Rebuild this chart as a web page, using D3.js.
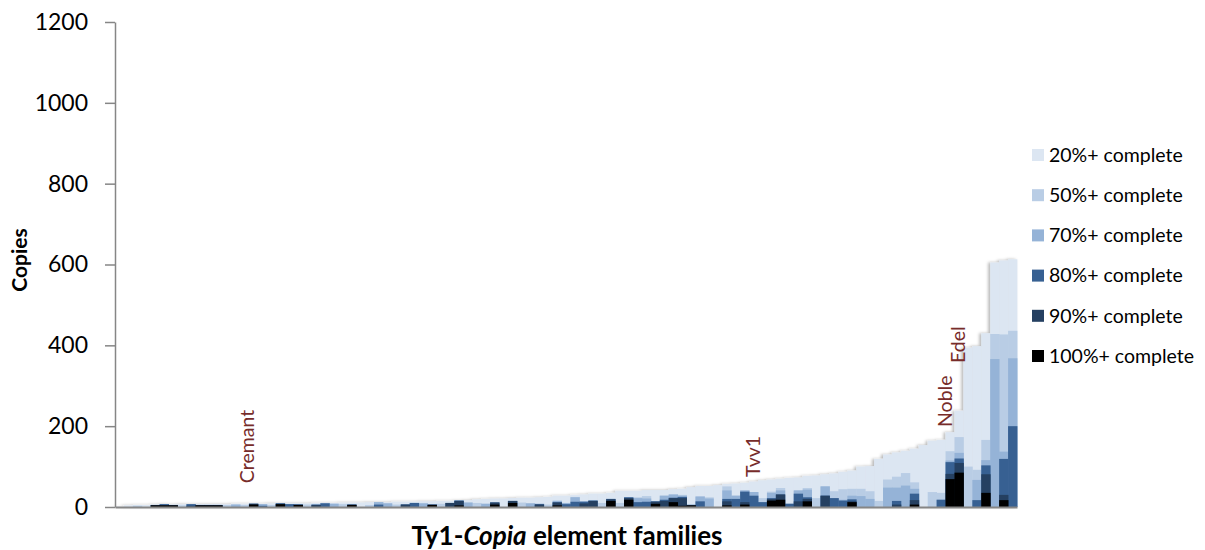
<!DOCTYPE html>
<html>
<head>
<meta charset="utf-8">
<script src="https://cdn.jsdelivr.net/npm/d3@7"></script>
<style>
  body { margin: 0; background: #fff; }
  svg { display: block; }
  text { font-family: Lato, "Open Sans", sans-serif; fill: #000; }
</style>
</head>
<body>
<svg id="chart" width="1205" height="550"></svg>
<script>
// Ty1-Copia families, sorted by number of copies that are at least 20% complete
const families = d3.range(1, 102).map(i => "F" + i);

// Copies per family by completeness threshold (each threshold includes the stricter ones)
const complete20 = [1,4,5,5,6,7,6,7,7,7, 7,7,7,8,8,8,8,9,9,9,
  9,9,10,10,10,11,11,11,12,12, 12,13,13,13,14,14,15,15,16,17,
  19,20,21,21,22,23,23,24,25,28, 28,30,31,33,33,35,40,40,40,42,
  42,42,44,45,49,52,52,54,57,58, 60,63,66,68,70,72,73,77,78,81,
  83,87,90,100,101,119,130,135,139,144, 153,164,166,185,238,394,398,430,605,610,
  613];
const complete50 = [0,0,3,0,5,7,5,4,7,5, 5,5,5,6,5,8,7,5,9,7,
  7,6,6,10,8,7,6,0,5,12, 9,6,7,10,9,6,8,10,16,11,
  10,8,12,0,15,11,9,8,6,16, 10,25,14,16,10,20,10,24,24,27,
  14,28,31,30,6,26,24,0,51,28, 41,37,22,38,47,8,41,47,22,51,
  39,44,45,45,39,15,68,75,84,61, 0,37,35,138,173,100,92,166,428,427,
  436];
const complete70 = [0,0,0,0,5,7,5,0,7,5, 5,5,0,6,0,8,7,0,9,7,
  7,0,6,10,8,0,6,0,0,12, 9,0,7,10,9,6,0,10,16,11,
  0,8,12,0,15,0,9,8,0,15, 10,24,14,16,0,20,0,24,22,21,
  14,28,31,28,6,26,21,0,41,28, 41,37,12,35,41,8,41,43,0,51,
  22,18,28,27,20,0,48,48,53,45, 0,0,18,115,134,0,67,116,366,137,
  368];
const complete80 = [0,0,0,0,5,7,5,0,7,5, 5,5,0,0,0,8,3,0,9,7,
  6,0,6,9,0,0,6,0,0,6, 0,0,6,10,0,6,0,10,16,0,
  0,0,11,0,15,0,0,7,0,12, 7,13,13,16,0,20,0,24,12,13,
  14,18,23,25,5,14,0,0,20,20, 38,28,12,22,31,8,33,24,0,28,
  22,16,19,0,0,0,0,15,0,33, 0,0,18,111,120,0,17,103,0,119,
  200];
const complete90 = [0,0,0,0,5,5,5,0,3,5, 5,5,0,0,0,8,0,0,8,0,
  6,0,5,0,0,0,6,0,0,0, 0,0,6,0,0,6,0,10,15,0,
  0,0,11,0,15,0,0,6,0,11, 0,0,9,15,0,19,0,22,0,0,
  13,15,22,22,5,0,0,0,14,0, 12,0,0,20,31,0,14,20,0,28,
  0,0,14,0,0,0,0,6,0,17, 0,0,0,82,109,0,0,81,0,30,
  0];
const complete100 = [0,0,0,0,4,4,4,0,0,4, 4,4,0,0,0,6,0,0,7,0,
  5,0,0,0,0,0,5,0,0,0, 0,0,0,0,0,5,0,0,4,0,
  0,0,6,0,10,0,0,0,0,4, 0,0,0,0,0,15,0,18,0,0,
  8,0,12,3,4,0,0,0,4,0, 6,0,0,16,18,0,0,14,0,0,
  0,0,12,0,0,0,0,0,0,6, 0,0,0,69,85,0,0,35,0,17,
  0];

const seriesNames = ["20%+ complete", "50%+ complete", "70%+ complete",
                     "80%+ complete", "90%+ complete", "100%+ complete"];
const seriesValues = [complete20, complete50, complete70, complete80, complete90, complete100];
const seriesColors = ["#dce6f2", "#b9cde5", "#95b3d7", "#376092", "#254061", "#000000"];

const yTicks = [0, 200, 400, 600, 800, 1000, 1200];

// Named families, placed over the bars (pos in category units, value = where the label starts)
const familyLabels = [
  { text: "Cremant", pos: 14.85, value: 59 },
  { text: "Tvv1",    pos: 71.47, value: 74 },
  { text: "Noble",   pos: 92.95, value: 198 },
  { text: "Edel",    pos: 94.4,  value: 356 }
];

const svg = d3.select("#chart");
const plot = { left: 115, right: 1017, top: 22, bottom: 507 };

const x = d3.scaleBand().domain(families).range([plot.left, plot.right]).padding(0);
const xPos = d3.scaleLinear().domain([0, families.length]).range([plot.left, plot.right]);
const y = d3.scaleLinear().domain([0, 1200]).range([plot.bottom, plot.top]);

// soft shadow on the outer (20%) bars
const defs = svg.append("defs");
const f = defs.append("filter").attr("id", "barShadow")
  .attr("x", "-5%").attr("y", "-5%").attr("width", "110%").attr("height", "110%");
f.append("feDropShadow").attr("dx", -2).attr("dy", 0).attr("stdDeviation", 1.4)
  .attr("flood-color", "#000").attr("flood-opacity", 0.28);

// overlapping bars: widest threshold first, strictest on top
seriesValues.forEach((vals, si) => {
  const g = svg.append("g").attr("class", "series s" + si);
  if (si === 0) g.attr("filter", "url(#barShadow)");
  g.selectAll("rect")
    .data(families.map((fam, i) => ({ fam, v: vals[i] })).filter(d => d.v > 0))
    .join("rect")
    .attr("x", d => x(d.fam))
    .attr("width", x.bandwidth() + 0.4)
    .attr("y", d => y(d.v))
    .attr("height", d => y(0) - y(d.v))
    .attr("fill", seriesColors[si]);
});

// y axis
const yAxis = d3.axisLeft(y).tickValues(yTicks).tickFormat(d3.format("d"))
  .tickSize(10).tickPadding(17).tickSizeOuter(0);
const gy = svg.append("g").attr("transform", `translate(${plot.left},0)`).call(yAxis);
gy.select(".domain").attr("stroke", "#868686").attr("stroke-width", 1.5);
gy.selectAll(".tick line").attr("stroke", "#868686").attr("stroke-width", 1.5);
gy.selectAll(".tick text").attr("font-size", 23).attr("font-family", "Lato, sans-serif").attr("fill", "#000");

// x axis baseline
const xAxis = d3.axisBottom(x).tickValues([]).tickSize(0).tickSizeOuter(0);
const gx = svg.append("g").attr("transform", `translate(0,${plot.bottom})`).call(xAxis);
gx.select(".domain").attr("stroke", "#868686").attr("stroke-width", 2);

// family labels
svg.append("g").selectAll("text").data(familyLabels).join("text")
  .attr("transform", d => `translate(${xPos(d.pos)},${y(d.value)}) rotate(-90)`)
  .attr("dy", "0.35em")
  .attr("font-size", 19.5)
  .style("fill", "#772c2a")
  .text(d => d.text);

// axis titles
svg.append("text")
  .attr("transform", `translate(27,260) rotate(-90)`)
  .attr("text-anchor", "middle")
  .attr("font-size", 21).attr("font-weight", "bold")
  .text("Copies");

const xt = svg.append("text")
  .attr("x", 567).attr("y", 545)
  .attr("text-anchor", "middle")
  .attr("font-size", 26).attr("font-weight", "bold");
xt.append("tspan").text("Ty1-");
xt.append("tspan").attr("font-style", "italic").text("Copia");
xt.append("tspan").text(" element families");

// legend
const legend = svg.append("g").attr("transform", "translate(1032,149)");
const items = legend.selectAll("g").data(seriesNames).join("g")
  .attr("transform", (d, i) => `translate(0,${i * 40.2})`);
items.append("rect").attr("width", 12).attr("height", 12)
  .attr("fill", (d, i) => seriesColors[i]);
items.append("text").attr("x", 17).attr("y", 6).attr("dy", "0.35em")
  .attr("font-size", 19.5).text(d => d);
</script>
</body>
</html>
